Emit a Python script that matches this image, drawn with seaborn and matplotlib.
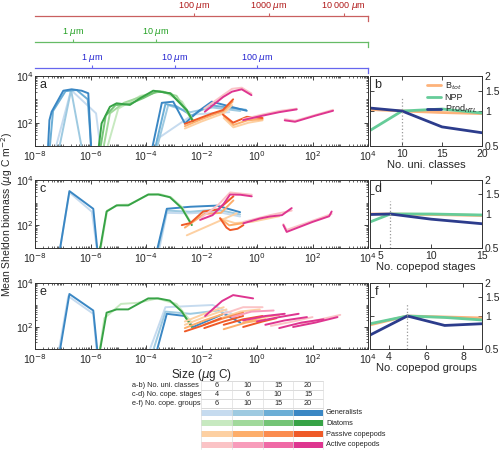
import numpy as np
import matplotlib
matplotlib.use("Agg")
import matplotlib.pyplot as plt
from matplotlib.patches import Rectangle
from matplotlib.ticker import FixedLocator, LogLocator, NullFormatter, NullLocator
import seaborn as sns

# ------------------------------------------------------------
# colours (light -> dark = coarse -> fine resolution)
# ------------------------------------------------------------
GEN_COLS = ['#c6dbef', '#9ecae1', '#6baed6', '#3a87c4']
DIA_COLS = ['#c7e9c0', '#a1d99b', '#74c476', '#37a346']
PAS_COLS = ['#fdd0a2', '#fdae6b', '#fb8c4f', '#ef5a28']
ACT_COLS = ['#fbc3c6', '#f89cbb', '#f069a6', '#de3590']
BTOT_COL = '#fdb27a'
NPP_COL = '#66cc99'
PROD_COL = '#2c3c8c'

# ------------------------------------------------------------
# size spectra: (shade, log10 size [ugC], log10 biomass [ugC m-2])
# ------------------------------------------------------------
a_generalists = [
    (0, [-7.35, -6.7, -5.8, -5.6], [0.5, 3.4, 2.4, 0.5]),
    (1, [-7.2, -6.7, -6.25], [0.5, 3.4, 0.5]),
    (2, [-7.5, -7.35, -6.9, -6.5, -6.1, -5.95], [0.5, 2.5, 3.35, 3.4, 3.0, 0.5]),
    (3, [-7.55, -7.48, -7.4, -6.98, -6.68, -6.32, -6.08, -5.96], [0.5, 2.11, 2.47, 3.37, 3.43, 3.37, 3.26, 0.5]),
    (0, [-3.6, -2.3, -1.0], [1.3, 2.35, 2.45]),
    (1, [-3.7, -3.2, -2.4, -1.6, -0.6], [0.5, 2.75, 2.45, 2.65, 2.5]),
    (2, [-3.75, -3.3, -2.9, -2.35, -1.7, -0.4], [0.5, 2.8, 2.7, 2.3, 2.75, 2.55]),
    (3, [-3.85, -3.43, -3.02, -2.6, -2.1, -1.63, -1.0, -0.37], [0.5, 2.85, 2.9, 1.97, 2.5, 2.9, 2.7, 2.51]),
]
a_diatoms = [
    (0, [-5.5, -5.0, -4.2, -3.4, -2.7, -2.3], [0.5, 2.6, 3.15, 3.35, 2.9, 2.1]),
    (1, [-5.6, -5.3, -4.8, -4.2, -3.5, -2.9, -2.3], [0.5, 2.4, 2.85, 3.1, 3.35, 3.15, 2.05]),
    (2, [-5.7, -5.45, -5.1, -4.6, -4.1, -3.6, -3.1, -2.55, -2.3], [0.5, 2.3, 2.75, 2.8, 3.05, 3.35, 3.25, 2.55, 2.05]),
    (3, [-5.75, -5.6, -5.3, -5.06, -4.58, -4.22, -3.74, -3.13, -2.53, -2.3], [0.5, 1.97, 2.68, 2.83, 2.76, 3.04, 3.37, 3.26, 2.54, 2.04]),
]
a_passive = [
    (0, [-2.6, -2.0, -1.2, -0.9], [1.75, 2.05, 2.4, 2.75]),
    (1, [-2.6, -2.0, -1.2, -0.88], [1.85, 2.15, 2.5, 2.9]),
    (3, [-2.6, -2.05, -1.6, -1.23, -0.86], [1.95, 2.2, 2.4, 2.54, 3.0]),
    (0, [-1.2, -0.85, -0.3, 0.2], [2.2, 1.8, 2.0, 2.1]),
    (1, [-1.2, -0.85, -0.35, 0.2], [2.3, 1.9, 2.1, 2.15]),
    (3, [-1.23, -0.86, -0.37, 0.2], [2.35, 2.0, 2.25, 2.2]),
]
a_active = [
    (0, [-1.9, -1.2, -0.9, -0.55, -0.2], [2.6, 3.2, 3.45, 3.5, 3.25]),
    (3, [-1.88, -1.22, -0.9, -0.55, -0.2], [2.47, 3.1, 3.33, 3.43, 3.18]),
    (0, [-0.5, 0.2, 0.8, 1.43], [2.15, 2.35, 2.5, 2.6]),
    (3, [-0.5, 0.2, 0.8, 1.43], [2.11, 2.3, 2.45, 2.57]),
    (0, [1.0, 1.37, 2.1, 2.74], [2.15, 2.08, 2.33, 2.55]),
    (3, [1.0, 1.37, 2.1, 2.74], [2.1, 2.04, 2.3, 2.51]),
]

c_generalists = [
    (0, [-7.16, -6.76, -5.95, -5.72], [0.5, 3.45, 2.6, 0.5]),
    (3, [-7.16, -6.76, -5.9, -5.72], [0.5, 3.51, 2.73, 0.5]),
    (0, [-3.6, -3.25, -2.41, -1.45, -0.61], [0.5, 2.55, 2.53, 2.6, 2.39]),
    (1, [-3.65, -3.25, -2.4, -1.45, -0.61], [0.5, 2.65, 2.6, 2.7, 2.48]),
    (3, [-3.68, -3.25, -2.4, -1.45, -0.61], [0.5, 2.73, 2.82, 2.87, 2.58]),
]
c_diatoms = [
    (0, [-5.7, -5.4, -5.0, -4.6, -3.9, -3.5, -3.1, -2.7, -2.35], [0.5, 2.65, 2.9, 2.92, 3.36, 3.38, 3.24, 2.8, 2.05]),
    (3, [-5.72, -5.42, -5.06, -4.64, -3.92, -3.56, -3.14, -2.71, -2.35], [0.5, 2.61, 2.88, 2.88, 3.36, 3.36, 3.24, 2.76, 2.01]),
]
c_passive = [
    (0, [-2.53, -0.73], [1.56, 2.53]),
    (0, [-1.33, -0.8, -0.2, 0.8], [2.3, 2.1, 2.15, 2.4]),
    (1, [-2.6, -1.9, -1.3, -0.85], [1.9, 2.5, 2.55, 3.1]),
    (1, [-1.33, -1.0, -0.49], [2.31, 2.0, 2.1]),
    (3, [-2.71, -2.4, -1.94, -1.4, -0.85], [2.01, 2.1, 2.61, 2.7, 3.28]),
    (3, [-1.33, -1.1, -0.97, -0.7, -0.49], [2.31, 1.9, 1.79, 1.85, 2.01]),
]
c_active = [
    (0, [-2.0, -1.4, -0.97, -0.19], [2.35, 2.9, 3.45, 3.35]),
    (3, [-2.05, -1.6, -1.2, -0.97, -0.6, -0.19], [2.24, 2.45, 2.95, 3.36, 3.35, 3.28]),
    (0, [-0.49, 0.47, 1.25], [2.15, 2.45, 2.65]),
    (3, [-0.49, 0.1, 0.47, 0.9, 1.25], [2.09, 2.3, 2.39, 2.45, 2.76]),
    (0, [0.95, 1.07, 2.0, 2.69], [2.05, 1.8, 2.2, 2.5]),
    (3, [0.95, 1.07, 2.0, 2.6, 2.69], [2.01, 1.71, 2.15, 2.4, 2.61]),
]

e_generalists = [
    (0, [-7.2, -6.8, -5.9, -5.75], [0.5, 3.4, 2.6, 0.5]),
    (3, [-7.16, -6.76, -5.9, -5.72], [0.5, 3.5, 2.75, 0.5]),
    (0, [-4.0, -3.3, -1.6, -0.9], [0.5, 2.9, 3.0, 2.6]),
    (1, [-3.85, -3.3, -2.4, -1.4, -0.8], [0.5, 2.7, 2.6, 2.75, 2.4]),
    (3, [-3.7, -3.25, -2.6, -2.3, -1.2, -0.6], [0.5, 2.6, 2.5, 2.0, 2.6, 2.2]),
]
e_diatoms = [
    (0, [-5.72, -5.5, -4.9, -4.3, -3.6, -2.9, -2.35], [0.5, 2.4, 3.05, 3.1, 3.3, 3.05, 2.2]),
    (3, [-5.72, -5.42, -5.06, -4.64, -3.92, -3.56, -3.14, -2.71, -2.35], [0.5, 2.65, 2.8, 2.8, 3.3, 3.3, 3.2, 2.7, 2.0]),
]
e_passive = [
    (0, [-2.6, -1.9, -1.1], [2.1, 2.45, 2.8]),
    (0, [-2.6, -1.9, -1.2], [2.25, 2.6, 2.9]),
    (0, [-1.3, -0.6, 0.1], [2.4, 2.7, 2.8]),
    (1, [-2.6, -1.9, -1.2], [1.95, 2.3, 2.6]),
    (1, [-0.5, 0.2, 0.8], [2.2, 2.45, 2.55]),
    (1, [-1.2, -0.4, 0.3], [1.9, 2.2, 2.35]),
    (2, [-1.9, -1.2, -0.5], [2.1, 2.4, 2.65]),
    (3, [-2.6, -2.0, -1.3], [1.8, 2.05, 2.4]),
    (3, [-1.9, -1.2, -0.5], [1.95, 2.25, 2.5]),
    (3, [-1.2, -0.5, 0.2], [2.1, 2.35, 2.5]),
    (3, [-0.5, 0.2, 0.7], [2.0, 2.25, 2.4]),
]
e_active = [
    (0, [-1.2, -0.5, 0.2], [2.6, 2.9, 2.9]),
    (0, [0.5, 1.3, 2.0], [2.05, 2.25, 2.45]),
    (0, [1.6, 2.3, 3.0], [2.15, 2.35, 2.55]),
    (1, [-0.9, -0.2, 0.6], [2.45, 2.7, 2.75]),
    (3, [-1.87, -1.26, -0.86, -0.14], [2.5, 3.18, 3.45, 3.3]),
    (3, [-0.5, 0.3, 1.0], [2.3, 2.5, 2.6]),
    (3, [0.0, 0.8, 1.5], [2.25, 2.45, 2.6]),
    (3, [0.3, 1.0, 1.8], [2.1, 2.3, 2.45]),
    (3, [0.8, 1.6, 2.4], [1.95, 2.2, 2.35]),
    (3, [1.3, 2.1, 2.9], [2.0, 2.2, 2.45]),
]

# ------------------------------------------------------------
# relative changes (right-hand panels)
# ------------------------------------------------------------
b_x = [6, 10, 15, 20]
b_btot = [1.03, 1.0, 0.97, 0.95]
b_npp = [0.68, 1.0, 1.04, 0.96]
b_prod = [1.06, 1.0, 0.73, 0.65]

d_x = [4, 6, 10, 15]
d_btot = [1.0, 1.0, 0.99, 0.97]
d_npp = [0.85, 1.0, 1.0, 0.98]
d_prod = [0.99, 1.0, 0.9, 0.82]

f_x = [3, 5, 7, 9]
f_btot = [0.83, 1.0, 0.98, 0.96]
f_npp = [0.85, 1.0, 0.97, 0.92]
f_prod = [0.67, 1.0, 0.82, 0.85]

# secondary size axes: tick diameters (um) and log10 mass = a + b*log10(d)
red_um = [100, 1000, 10000]
red_labels = [r'100 $\mu$m', r'1000 $\mu$m', r'10 000 $\mu$m']
green_um = [1, 10]
green_labels = [r'1 $\mu$m', r'10 $\mu$m']
blue_um = [1, 10, 100]
blue_labels = [r'1 $\mu$m', r'10 $\mu$m', r'100 $\mu$m']

table_rows = ['a-b) No. uni. classes', 'c-d) No. cope. stages', 'e-f) No. cope. groups']
table_vals = [[6, 10, 15, 20], [4, 6, 10, 15], [6, 10, 15, 20]]
legend_names = ['Generalists', 'Diatoms', 'Passive copepods', 'Active copepods']

# ------------------------------------------------------------
sns.set_theme(style="ticks")
plt.rcParams['font.family'] = ['Liberation Sans', 'DejaVu Sans']
plt.rcParams['axes.linewidth'] = 0.7
plt.rcParams['axes.edgecolor'] = '#333333'

W, H = 500, 455
fig = plt.figure(figsize=(W / 100, H / 100), dpi=100)


def px_axes(left, top, width, height):
    return fig.add_axes([left / W, 1 - (top + height) / H, width / W, height / H])


def draw_main(ax, groups, letter):
    for lines, cols in groups:
        for shade, lx, ly in sorted(lines, key=lambda l: l[0]):
            sns.lineplot(x=10.0 ** np.array(lx), y=10.0 ** np.array(ly), ax=ax,
                         color=cols[shade], lw=1.4, sort=False, estimator=None)
    ax.set_xscale('log')
    ax.set_yscale('log')
    ax.set_xlim(1e-8, 1e4)
    ax.set_ylim(10, 1e4)
    ax.xaxis.set_major_locator(FixedLocator([10.0 ** k for k in range(-8, 5, 2)]))
    ax.set_xticklabels([r'10$^{%d}$' % k for k in range(-8, 5, 2)])
    ax.xaxis.set_minor_locator(LogLocator(base=10, subs=np.arange(1, 10), numticks=100))
    ax.xaxis.set_minor_formatter(NullFormatter())
    ax.yaxis.set_major_locator(FixedLocator([1e2, 1e4]))
    ax.set_yticklabels([r'10$^{2}$', r'10$^{4}$'])
    ax.yaxis.set_minor_locator(LogLocator(base=10, subs=np.arange(1, 10), numticks=100))
    ax.yaxis.set_minor_formatter(NullFormatter())
    ax.tick_params(which='both', direction='in', top=True, right=True, labelsize=7.5, pad=2)
    ax.tick_params(axis='y', which='both', pad=1)
    ax.tick_params(which='major', length=3, width=0.6)
    ax.tick_params(which='minor', length=1.6, width=0.5)
    ax.set_xlabel('')
    ax.set_ylabel('')
    ax.text(0.015, 0.95, letter, transform=ax.transAxes, fontsize=9, va='top')


def draw_right(ax, xs, btot, npp, prod, xlim, xticks, vline, xlabel, letter, legend=False):
    sns.lineplot(x=xs, y=btot, ax=ax, color=BTOT_COL, lw=2.0, label=r'B$_{tot}$' if legend else None)
    sns.lineplot(x=xs, y=npp, ax=ax, color=NPP_COL, lw=2.0, label='NPP' if legend else None)
    sns.lineplot(x=xs, y=prod, ax=ax, color=PROD_COL, lw=2.0, label=r'Prod$_{HTL}$' if legend else None)
    ax.vlines(vline, 0.5, 1.3, colors='#999999', linestyles=':', lw=0.9)
    ax.set_yscale('log')
    ax.set_ylim(0.5, 2)
    ax.set_xlim(*xlim)
    ax.yaxis.set_major_locator(FixedLocator([0.5, 1, 1.5, 2]))
    ax.set_yticklabels(['0.5', '1', '1.5', '2'])
    ax.yaxis.set_minor_locator(NullLocator())
    ax.set_xticks(xticks)
    ax.set_xticklabels([str(v) for v in xticks])
    ax.tick_params(which='both', direction='in', top=True, left=True, right=True,
                   labelleft=False, labelright=True, labelsize=7.5, length=3, width=0.6, pad=2)
    ax.set_xlabel(xlabel, fontsize=8, labelpad=1)
    ax.set_ylabel('')
    ax.text(0.04, 0.95, letter, transform=ax.transAxes, fontsize=9, va='top')
    if legend:
        ax.legend(loc='upper right', frameon=False, fontsize=6.5, handlelength=1.6,
                  handletextpad=0.4, labelspacing=0.1, borderaxespad=0.1)
    elif ax.get_legend() is not None:
        ax.get_legend().remove()


def size_axis(top, um, labels, a, b, line_col, text_col):
    ax = px_axes(35, top, 333, 5)
    ax.set_xscale('log')
    ax.set_xlim(1e-8, 1e4)
    ax.set_ylim(0, 1)
    ax.patch.set_alpha(0)
    for s in ['left', 'bottom']:
        ax.spines[s].set_visible(False)
    for s in ['top', 'right']:
        ax.spines[s].set_color(line_col)
        ax.spines[s].set_linewidth(0.9)
    pos = 10.0 ** (a + b * np.log10(np.array(um, dtype=float)))
    ax.xaxis.set_major_locator(FixedLocator(pos))
    ax.xaxis.set_minor_locator(NullLocator())
    ax.set_xticklabels(labels)
    ax.xaxis.tick_top()
    ax.tick_params(axis='x', direction='out', length=2.5, width=0.8, color=line_col,
                   labelcolor=text_col, labelsize=6.5, pad=0.5)
    ax.set_yticks([])


# top size axes
size_axis(16, red_um, red_labels, -7.68, 2.7, '#c96060', '#b01818')
size_axis(42, green_um, green_labels, -6.62, 2.97, '#66bb66', '#22a022')
size_axis(68, blue_um, blue_labels, -5.93, 2.96, '#6666ee', '#2323d0')

# main spectra panels
ax_a = px_axes(35, 76, 333, 70)
ax_c = px_axes(35, 180, 333, 68)
ax_e = px_axes(35, 283, 333, 66)
draw_main(ax_a, [(a_generalists, GEN_COLS), (a_diatoms, DIA_COLS), (a_passive, PAS_COLS), (a_active, ACT_COLS)], 'a')
draw_main(ax_c, [(c_generalists, GEN_COLS), (c_diatoms, DIA_COLS), (c_passive, PAS_COLS), (c_active, ACT_COLS)], 'c')
draw_main(ax_e, [(e_generalists, GEN_COLS), (e_diatoms, DIA_COLS), (e_passive, PAS_COLS), (e_active, ACT_COLS)], 'e')
ax_e.set_xlabel(r'Size ($\mu$g C)', fontsize=8.5, labelpad=1)
fig.text(7.5 / W, 1 - 215 / H, r'Mean Sheldon biomass ($\mu$g C m$^{-2}$)', rotation=90,
         ha='center', va='center', fontsize=7.5)

# right panels
ax_b = px_axes(370, 76, 112, 70)
ax_d = px_axes(370, 180, 112, 68)
ax_f = px_axes(370, 283, 112, 66)
draw_right(ax_b, b_x, b_btot, b_npp, b_prod, (6, 20), [10, 15, 20], 10, 'No. uni. classes', 'b', legend=True)
draw_right(ax_d, d_x, d_btot, d_npp, d_prod, (4, 15), [5, 10, 15], 6, 'No. copepod stages', 'd')
draw_right(ax_f, f_x, f_btot, f_npp, f_prod, (3, 9), [4, 6, 8], 5, 'No. copepod groups', 'f')

# legend table (pixel coordinates)
tab = fig.add_axes([0, 0, 1, 1 - 376 / H])
tab.set_xlim(0, W)
tab.set_ylim(H, 376)
tab.axis('off')
col_edges = [201, 232, 263, 293, 323]
col_mid = [(col_edges[i] + col_edges[i + 1]) / 2 for i in range(4)]
row_y = [385, 394, 403]
for r, (name, vals) in enumerate(zip(table_rows, table_vals)):
    tab.text(132, row_y[r], name, fontsize=5.3, va='center', ha='left')
    for c, v in enumerate(vals):
        tab.text(col_mid[c], row_y[r], str(v), fontsize=5.3, va='center', ha='center')
for yy in [380.5, 389.5, 398.5, 407.5]:
    tab.plot([col_edges[0], col_edges[-1]], [yy, yy], color='#cccccc', lw=0.5)
for xx in col_edges:
    tab.plot([xx, xx], [380.5, 449], color='#dddddd', lw=0.5)
bar_y = [412.7, 423.3, 434, 444.7]
for r, (name, cols) in enumerate(zip(legend_names, [GEN_COLS, DIA_COLS, PAS_COLS, ACT_COLS])):
    for c in range(4):
        tab.add_patch(Rectangle((col_edges[c], bar_y[r] - 3), col_edges[c + 1] - col_edges[c], 6,
                                color=cols[c], lw=0))
    tab.text(326, bar_y[r], name, fontsize=5.3, va='center', ha='left')

fig.savefig('out.png', dpi=100)
